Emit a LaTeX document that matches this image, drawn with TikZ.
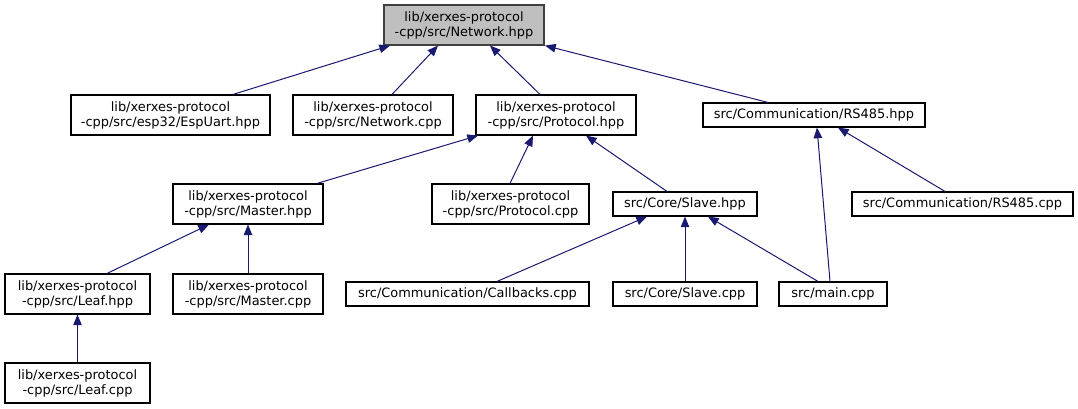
\documentclass[tikz,border=0pt]{standalone}
\usepackage{fontspec}
\setmainfont{DejaVu Sans}
\usetikzlibrary{arrows.meta}
\definecolor{edgeblue}{HTML}{191970}
\definecolor{rootfill}{HTML}{BFBFBF}
\definecolor{rootdraw}{HTML}{404040}
\tikzset{
  box/.style={draw=black, line width=0.85pt, fill=white, inner sep=0pt, align=center,
    font=\fontsize{9.7pt}{11.25pt}\selectfont, minimum height=40*0.75pt},
  onebox/.style={box, minimum height=24*0.75pt},
  rootbox/.style={box, fill=rootfill, draw=rootdraw},
  edge/.style={draw=edgeblue, line width=0.75pt, -{Triangle[length=8pt,width=6.4pt]}}
}
\begin{document}
\begin{tikzpicture}[x=0.75pt,y=-0.75pt]
\useasboundingbox (0,0) rectangle (1078,409);
% nodes
\node[rootbox, minimum width=160*0.75pt] (root) at (464,25) {lib/xerxes-protocol\\-cpp/src/Network.hpp};
\node[box, minimum width=199*0.75pt] (espuart) at (170.5,115) {lib/xerxes-protocol\\-cpp/src/esp32/EspUart.hpp};
\node[box, minimum width=160*0.75pt] (netcpp) at (373,115) {lib/xerxes-protocol\\-cpp/src/Network.cpp};
\node[box, minimum width=160*0.75pt] (prothpp) at (556,115) {lib/xerxes-protocol\\-cpp/src/Protocol.hpp};
\node[onebox, minimum width=222*0.75pt] (rshpp) at (814,115) {src/Communication/RS485.hpp};
\node[box, minimum width=150*0.75pt] (masterhpp) at (248,204) {lib/xerxes-protocol\\-cpp/src/Master.hpp};
\node[box, minimum width=157*0.75pt] (protcpp) at (510.5,204) {lib/xerxes-protocol\\-cpp/src/Protocol.cpp};
\node[onebox, minimum width=144*0.75pt] (slavehpp) at (685,204) {src/Core/Slave.hpp};
\node[onebox, minimum width=221*0.75pt] (rscpp) at (962.5,204) {src/Communication/RS485.cpp};
\node[box, minimum width=145*0.75pt] (leafhpp) at (77.5,294) {lib/xerxes-protocol\\-cpp/src/Leaf.hpp};
\node[box, minimum width=150*0.75pt] (mastercpp) at (248,294) {lib/xerxes-protocol\\-cpp/src/Master.cpp};
\node[onebox, minimum width=243*0.75pt] (callbacks) at (467.5,294) {src/Communication/Callbacks.cpp};
\node[onebox, minimum width=144*0.75pt] (slavecpp) at (685,294) {src/Core/Slave.cpp};
\node[onebox, minimum width=108*0.75pt] (maincpp) at (833,294) {src/main.cpp};
\node[box, minimum width=145*0.75pt] (leafcpp) at (77.5,383) {lib/xerxes-protocol\\-cpp/src/Leaf.cpp};
% edges (child -> parent)
\draw[edge] (espuart.north -| 233,0) -- (root.south -| 390,0);
\draw[edge] (netcpp.north -| 392,0) -- (root.south -| 438,0);
\draw[edge] (prothpp.north -| 540,0) -- (root.south -| 490,0);
\draw[edge] (rshpp.north -| 768,0) -- (root.south -| 545,0);
\draw[edge] (masterhpp.north -| 317,0) -- (prothpp.south -| 478,0);
\draw[edge] (protcpp.north -| 510,0) -- (prothpp.south -| 533,0);
\draw[edge] (slavehpp.north -| 667,0) -- (prothpp.south -| 586,0);
\draw[edge] (maincpp.north -| 830,0) -- (rshpp.south -| 817,0);
\draw[edge] (rscpp.north -| 945,0) -- (rshpp.south -| 838,0);
\draw[edge] (leafhpp.north -| 107,0) -- (masterhpp.south -| 209,0);
\draw[edge] (mastercpp.north) -- (masterhpp.south);
\draw[edge] (callbacks.north -| 497,0) -- (slavehpp.south -| 647,0);
\draw[edge] (slavecpp.north) -- (slavehpp.south);
\draw[edge] (maincpp.north -| 818,0) -- (slavehpp.south -| 708,0);
\draw[edge] (leafcpp.north) -- (leafhpp.south);
\end{tikzpicture}
\end{document}
